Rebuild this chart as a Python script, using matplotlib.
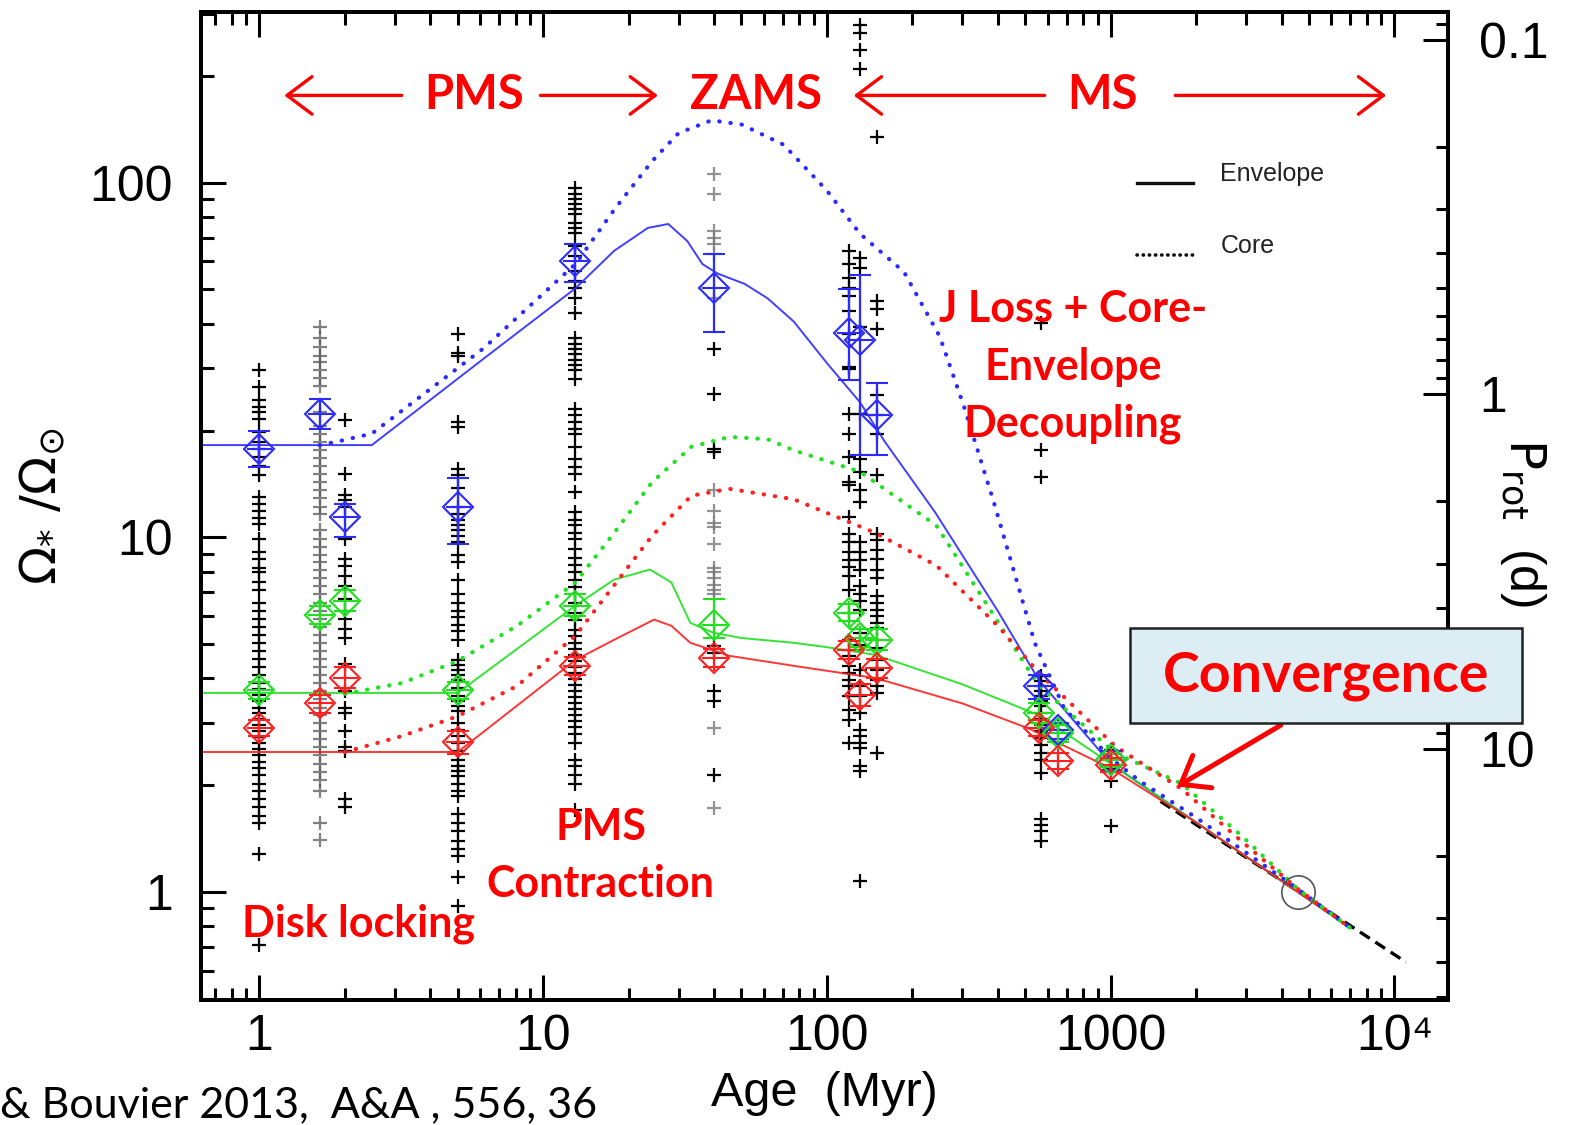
import numpy as np
import matplotlib
matplotlib.use('Agg')
import matplotlib.pyplot as plt
from matplotlib.patches import Rectangle, FancyArrowPatch
from matplotlib.lines import Line2D
from matplotlib.ticker import FixedLocator, NullFormatter, LogLocator, FixedFormatter

plt.rcParams['font.family'] = ['Liberation Sans', 'DejaVu Sans']

# ---------------- data ----------------
P_SUN = 25.3  # days, Omega_sun <-> P_rot conversion

# observed rotation rates (Omega/Omega_sun), one list per cluster
age_1 = 1.0
obs_1 = [29.7, 26.6, 24.4, 23.3, 22.6, 21.6, 19.8, 18.6, 17.8, 16.9, 15.9, 15.0, 13.0, 12.4,
         11.9, 11.3, 10.9, 9.9, 9.07, 8.7, 8.2, 7.96, 7.46, 7.1, 6.54, 6.2, 5.9, 5.6, 5.3,
         5.04, 4.78, 4.54, 4.3, 4.1, 3.88, 3.74, 3.6, 3.46, 3.3, 3.19, 3.07, 2.95, 2.84, 2.73,
         2.63, 2.53, 2.43, 2.33, 2.23, 2.13, 2.02, 1.92, 1.83, 1.73, 1.64, 1.56, 1.28, 0.71]
age_1p6 = 1.63
obs_1p6 = [39.2, 36.6, 34.5, 32.5, 31.3, 29.7, 28.2, 26.8, 22.6, 20.6, 19.6, 18.6, 17.6, 16.7,
           15.9, 15.1, 14.3, 13.6, 12.9, 12.2, 11.6, 10.5, 9.9, 9.4, 8.9, 8.5, 8.1, 7.7, 7.3,
           6.9, 6.54, 6.2, 5.9, 5.6, 5.3, 5.04, 4.78, 4.54, 4.3, 4.1, 3.88, 3.68, 3.5, 3.3,
           3.15, 2.99, 2.84, 2.69, 2.56, 2.43, 2.30, 2.18, 2.07, 1.92, 1.56, 1.40]
age_2 = 2.0
obs_2 = [21.4, 15.1, 13.2, 12.7, 12.2, 9.9, 8.7, 8.3, 7.8, 7.3, 6.7, 6.2, 5.9, 5.5, 5.2, 4.4,
         3.68, 3.3, 3.19, 2.84, 2.56, 2.5, 1.83, 1.73]
age_5 = 5.0
obs_5 = [37.5, 33.0, 32.4, 21.2, 20.5, 15.6, 15.0, 13.8, 12.2, 11.6, 11.2, 10.8, 10.5, 10.1, 9.7,
         8.9, 8.5, 7.6, 6.9, 6.54, 6.2, 5.95, 5.66, 5.45, 5.14, 4.5, 4.37, 4.22, 4.09, 3.96,
         3.76, 3.57, 3.45, 3.34, 3.23, 2.99, 2.86, 2.75, 2.63, 2.5, 2.35, 2.26, 2.19, 2.12,
         2.02, 1.93, 1.86, 1.66, 1.56, 1.48, 1.39, 1.32, 1.26, 1.10, 0.91]
age_13 = 13.0
obs_13 = [96.6, 92.8, 89.9, 87.0, 84.2, 81.5, 77.0, 74.6, 72.2, 66.3, 62.1, 56.3, 52.8, 50.4,
          47.2, 42.8, 36.4, 35.0, 33.9, 32.8, 31.7, 30.7, 29.7, 28.0, 23.0, 22.2, 21.2, 20.2,
          19.5, 18.0, 16.6, 15.8, 15.1, 13.4, 11.8, 11.2, 10.8, 10.3, 9.87, 9.25, 8.77, 8.33,
          7.96, 7.60, 7.22, 6.90, 6.54, 6.13, 5.83, 5.48, 5.28, 5.04, 4.85, 4.66, 4.48, 4.31,
          4.15, 3.99, 3.83, 3.68, 3.54, 3.41, 3.28, 3.15, 3.03, 2.91, 2.79, 2.63, 2.35, 2.26,
          2.13, 2.02, 1.70]
age_40 = 40.0
obs_40_grey = [106, 93, 73.1, 69.7, 67.0, 62.9, 47.2, 13.6, 11.9, 11.0, 10.7, 9.6, 8.2, 7.96,
               7.7, 7.36, 7.1, 6.9, 2.9, 1.72]
obs_40_black = [33.9, 25.4, 17.7, 17.4, 4.94, 4.72, 3.68, 3.45, 2.13]
age_120 = 120.0
obs_120 = [64.3, 59.0, 53.8, 50.4, 47.9, 43.4, 37.4, 30.3, 29.9, 22.3, 19.5, 16.9, 14.3, 14.0,
           11.4, 10.2, 9.68, 9.07, 8.61, 8.22, 7.80, 7.12, 6.13, 5.14, 4.82, 4.63, 4.34, 4.15,
           3.96, 3.81, 3.57, 3.26, 3.05, 2.63]
age_131 = 131.0
obs_131 = [279, 264, 237, 210, 61.3, 57.4, 39.3, 22.3, 16.6, 15.3, 13.6, 12.6, 9.68, 9.07, 8.61,
           8.11, 7.31, 6.90, 6.63, 6.25, 5.38, 4.97, 4.23, 3.81, 3.57, 3.19, 2.86, 2.75, 2.63,
           2.54, 2.26, 2.19, 1.07]
age_150 = 150.0
obs_150 = [135, 46.3, 44.0, 38.6, 25.2, 22.2, 19.6, 15.0, 10.2, 9.81, 9.19, 8.66, 8.11, 7.70,
           6.85, 6.54, 6.25, 6.01, 5.74, 5.56, 5.14, 4.88, 4.51, 4.23, 3.96, 3.81, 3.64, 2.46]
age_570 = 570.0
obs_570 = [40.2, 17.6, 14.8, 4.06, 3.93, 3.81, 3.68, 3.57, 3.45, 3.34, 3.19, 3.07, 2.95, 2.84,
           2.71, 2.59, 2.46, 2.35, 2.16, 1.61, 1.54, 1.48, 1.39]
age_1000 = 1000.0
obs_1000 = [2.51, 2.38, 2.23, 2.06, 1.53]

# percentiles of the distributions (90th blue, 50th green, 25th red)
pct_age = [1.0, 1.63, 2.0, 5.0, 13.0, 40.0, 120.0, 131.0, 150.0, 560.0, 650.0, 1000.0]
p90 = [17.8, 22.3, 11.4, 12.2, 60.0, 50.4, 37.6, 36.1, 22.2, 3.8, 2.86, 2.35]
p90_lo = [15.8, 20.2, 10.0, 9.6, 52.5, 38.0, 27.8, 17.1, 17.1, 3.5, 2.7, 2.2]
p90_hi = [20.0, 24.6, 12.4, 14.7, 67.0, 63.0, 50.0, 55.0, 27.2, 4.1, 3.0, 2.5]
p50 = [3.7, 6.05, 6.63, 3.71, 6.42, 5.67, 6.13, 5.21, 5.14, 3.19, 2.8, 2.35]
p50_lo = [3.5, 5.7, 6.2, 3.5, 6.0, 5.2, 5.8, 4.9, 4.8, 3.0, 2.65, 2.25]
p50_hi = [3.9, 6.4, 7.1, 3.9, 6.9, 6.7, 6.5, 5.5, 5.5, 3.4, 2.95, 2.45]
p25 = [2.9, 3.41, 4.01, 2.64, 4.34, 4.57, 4.82, 3.59, 4.28, 2.9, 2.34, 2.28]
p25_lo = [2.75, 3.2, 3.75, 2.45, 4.1, 4.3, 4.55, 3.35, 4.0, 2.75, 2.22, 2.18]
p25_hi = [3.05, 3.6, 4.3, 2.85, 4.6, 4.85, 5.1, 3.85, 4.55, 3.05, 2.46, 2.38]

# models: envelope (solid) and core (dotted)
fast_env_t = [0.62, 2.49, 6.2, 13, 17.8, 23.4, 27.6, 32.2, 36.4, 41.1, 51.4, 61.8, 76.4, 100,
              131, 160, 240, 400, 558, 1000, 2000, 4560, 7000]
fast_env_w = [18.2, 18.2, 32, 50.4, 64.3, 74.6, 76.5, 68.5, 59.0, 55.5, 51.8, 47.2, 40.6, 31,
              24.0, 18.6, 11.8, 6.2, 3.96, 2.3, 1.57, 1.0, 0.79]
fast_core_t = [1.63, 1.87, 2.49, 6.16, 13, 18, 24.2, 30, 39.2, 50, 70.4, 100, 131, 187, 250,
               304, 387, 540, 685, 1000, 1271, 2000, 4560, 7000]
fast_core_w = [18.2, 18.6, 19.6, 34.1, 59, 85, 115, 138, 150, 146, 128, 95, 71.7, 56, 36.8,
               23.4, 12.6, 5.04, 3.3, 2.38, 2.05, 1.62, 1.02, 0.79]
med_env_t = [0.62, 5.0, 13, 17.8, 23.8, 28.3, 33, 39.8, 50, 76.4, 100, 148, 300, 558, 1000,
             2000, 4560, 7000]
med_env_w = [3.64, 3.64, 6.42, 7.6, 8.11, 7.46, 5.74, 5.38, 5.2, 5.04, 4.9, 4.66, 3.85, 3.15,
             2.3, 1.57, 1.0, 0.79]
med_core_t = [2.0, 3.18, 5.0, 8.1, 13, 17.8, 24.2, 33.3, 45.4, 61.8, 76.4, 131, 243, 368, 558,
              1040, 1780, 2920, 4560, 7000]
med_core_w = [3.62, 3.88, 4.48, 5.63, 7.46, 10.3, 14.3, 18.0, 19.2, 18.9, 17.6, 15.3, 10.8,
              6.42, 3.81, 2.46, 2.02, 1.43, 1.02, 0.79]
slow_env_t = [0.62, 5.0, 13, 17.8, 24.6, 28.3, 33, 45.4, 76.4, 148, 300, 514, 1000, 2000,
              4560, 7000]
slow_env_w = [2.48, 2.48, 4.51, 5.14, 5.86, 5.63, 5.04, 4.63, 4.34, 4.01, 3.4, 2.89, 2.23,
              1.57, 1.0, 0.79]
slow_core_t = [2.0, 3.18, 5.0, 8.1, 13, 17.8, 24.2, 33.3, 45.4, 76.4, 148, 243, 400, 558,
               1040, 1780, 2920, 4560, 7000]
slow_core_w = [2.48, 2.75, 3.13, 3.81, 5.28, 7.33, 10.1, 13.1, 13.7, 12.8, 10.3, 8.33, 5.63,
               4.15, 2.57, 1.95, 1.38, 1.02, 0.79]
skumanich_t = [1500, 11000]
skumanich_w = [1.8, 0.633]
sun_t, sun_w = 4560, 1.0

x_ticks = [1, 10, 100, 1000, 10000]
x_labels = ['1', '10', '100', '1000', '10\u2074']
y_ticks = [1, 10, 100]
y_labels = ['1', '10', '100']
p_ticks = [0.1, 1, 10]
p_labels = ['0.1', '1', '10']

# ---------------- figure ----------------
W, H = 1568.0, 1120.0
fig = plt.figure(figsize=(15.75, 11.25), dpi=100)


def fx(px):
    return px / W


def fy(py):
    return 1 - py / H


ax = fig.add_axes([fx(200), fy(996), fx(1442) - fx(200), fy(12) - fy(996)])
ax.set_xscale('log')
ax.set_yscale('log')
XMIN, XMAX = 0.622, 15500
YMIN, YMAX = 0.494, 303
ax.set_xlim(XMIN, XMAX)
ax.set_ylim(YMIN, YMAX)

BLUE = '#2b2bff'
GREEN = '#20e020'
RED = '#ff2020'

# black dashed extension
ax.plot(skumanich_t, skumanich_w, color='k', lw=2.4, ls=(0, (3.5, 2)), zorder=2)

# crosses
cross_kw = dict(marker='+', ls='none', ms=10, mew=1.6, zorder=3)
for age, vals in [(age_1, obs_1), (age_2, obs_2), (age_5, obs_5), (age_13, obs_13),
                  (age_120, obs_120), (age_131, obs_131), (age_150, obs_150),
                  (age_570, obs_570), (age_1000, obs_1000)]:
    ax.plot(np.full(len(vals), age), vals, color='k', **cross_kw)
ax.plot(np.full(len(obs_1p6), age_1p6), obs_1p6, color='#555555', alpha=0.75, **cross_kw)
ax.plot(np.full(len(obs_40_grey), age_40), obs_40_grey, color='#777777', alpha=0.8, **cross_kw)
ax.plot(np.full(len(obs_40_black), age_40), obs_40_black, color='k', **cross_kw)

# model curves
dot = (0, (0.1, 2.6))
for t, w, c in [(fast_env_t, fast_env_w, BLUE), (med_env_t, med_env_w, GREEN),
                (slow_env_t, slow_env_w, RED)]:
    ax.plot(t, w, color=c, lw=1.4, alpha=0.9, zorder=4)
for t, w, c in [(fast_core_t, fast_core_w, BLUE), (med_core_t, med_core_w, GREEN),
                (slow_core_t, slow_core_w, RED)]:
    ax.plot(t, w, color=c, lw=3.0, ls=dot, dash_capstyle='round', zorder=4)

# percentile diamonds
for v, lo, hi, c in [(p90, p90_lo, p90_hi, BLUE), (p50, p50_lo, p50_hi, GREEN),
                     (p25, p25_lo, p25_hi, RED)]:
    v = np.array(v); lo = np.array(lo); hi = np.array(hi)
    ax.errorbar(pct_age, v, yerr=[v - lo, hi - v], fmt='D', mfc='none', mec=c, ms=15,
                mew=1.5, ecolor=c, elinewidth=1.6, capsize=8, capthick=1.6, zorder=5)
    ax.plot(pct_age, v, '+', color=c, ms=18, mew=1.5, zorder=5)

# sun
ax.plot(sun_t, sun_w, 'o', mfc='none', mec='#555555', ms=24, mew=1.2, zorder=6)

# axes styling
for s in ax.spines.values():
    s.set_linewidth(2.8)
ax.xaxis.set_major_locator(FixedLocator(x_ticks))
ax.xaxis.set_major_formatter(FixedFormatter(x_labels))
ax.xaxis.set_minor_locator(LogLocator(base=10, subs=np.arange(2, 10), numticks=20))
ax.xaxis.set_minor_formatter(NullFormatter())
ax.yaxis.set_major_locator(FixedLocator(y_ticks))
ax.yaxis.set_major_formatter(FixedFormatter(y_labels))
ax.yaxis.set_minor_locator(LogLocator(base=10, subs=np.arange(2, 10), numticks=20))
ax.yaxis.set_minor_formatter(NullFormatter())
ax.tick_params(which='both', direction='in', top=True, right=False, width=2.2)
ax.tick_params(which='major', length=18, labelsize=36)
ax.tick_params(which='minor', length=9)
ax.tick_params(axis='x', pad=10)
ax.tick_params(axis='y', pad=20)
ax.set_xlabel('Age  (Myr)', fontsize=35, labelpad=8)
ax.set_ylabel(r'$\Omega_{*}\ /\Omega_{\odot}$', fontsize=36, labelpad=16)

ax2 = ax.twinx()
ax2.set_yscale('log')
ax2.set_ylim(P_SUN / YMIN, P_SUN / YMAX)
ax2.yaxis.set_major_locator(FixedLocator(p_ticks))
ax2.yaxis.set_major_formatter(FixedFormatter(p_labels))
ax2.yaxis.set_minor_locator(LogLocator(base=10, subs=np.arange(2, 10), numticks=20))
ax2.yaxis.set_minor_formatter(NullFormatter())
ax2.tick_params(which='both', direction='in', width=2.2)
ax2.tick_params(which='major', length=18, labelsize=36, pad=22)
ax2.tick_params(which='minor', length=9)
for s in ax2.spines.values():
    s.set_linewidth(2.8)
fig.text(fx(1516), fy(520), r'$\mathrm{P}_{\mathrm{rot}}$  (d)', fontsize=36, rotation=270,
         ha='center', va='center')

# legend
fig.add_artist(Line2D([fx(1132), fx(1188)], [fy(182), fy(182)], color='#111111', lw=2.4))
fig.add_artist(Line2D([fx(1132), fx(1188)], [fy(254), fy(254)], color='#111111', lw=2.6,
                      ls=(0, (0.1, 1.6)), dash_capstyle='round'))
fig.text(fx(1215), fy(173), 'Envelope', fontsize=18, color='#222222', va='center', ha='left')
fig.text(fx(1215), fy(245), 'Core', fontsize=18, color='#222222', va='center', ha='left')

# red annotations
RT = dict(color='#ff0000', fontweight='bold', family=['Lato', 'DejaVu Sans'], ha='center',
          va='center')
fig.text(fx(472), fy(95), 'PMS', fontsize=34, **RT)
fig.text(fx(753), fy(95), 'ZAMS', fontsize=34, **RT)
fig.text(fx(1098), fy(95), 'MS', fontsize=34, **RT)
fig.text(fx(1068), fy(308), 'J Loss + Core-', fontsize=31, **RT)
fig.text(fx(1068), fy(365), 'Envelope', fontsize=31, **RT)
fig.text(fx(1068), fy(422), 'Decoupling', fontsize=31, **RT)
fig.text(fx(598), fy(823), 'PMS', fontsize=31, **RT)
fig.text(fx(598), fy(880), 'Contraction', fontsize=31, **RT)
fig.text(fx(357), fy(920), 'Disk locking', fontsize=31, **RT)

box = Rectangle((fx(1125), fy(720)), fx(1515) - fx(1125), fy(625) - fy(720),
                transform=fig.transFigure, facecolor='#dceef4', edgecolor='#222222', lw=1.8,
                zorder=10)
fig.add_artist(box)
fig.text(fx(1320), fy(673), 'Convergence', fontsize=40, zorder=11, **RT)


def red_arrow(x0, y0, x1, y1, lw=2.4, ms=30):
    a = FancyArrowPatch((fx(x0), fy(y0)), (fx(x1), fy(y1)), transform=fig.transFigure,
                        arrowstyle='->,head_length=0.6,head_width=0.45', color='#ff0000',
                        lw=lw, mutation_scale=ms, shrinkA=0, shrinkB=0)
    fig.add_artist(a)


red_arrow(400, 95, 283, 95)
red_arrow(538, 95, 655, 95)
red_arrow(1040, 95, 850, 95)
red_arrow(1170, 95, 1380, 95)
red_arrow(1275, 722, 1172, 783, lw=3.6, ms=30)

fig.text(0.0, fy(1100), '& Bouvier 2013,  A&A , 556, 36', fontsize=31, color='k',
         family=['Lato', 'DejaVu Sans'], ha='left', va='center')

fig.savefig('out.png', dpi=100)
